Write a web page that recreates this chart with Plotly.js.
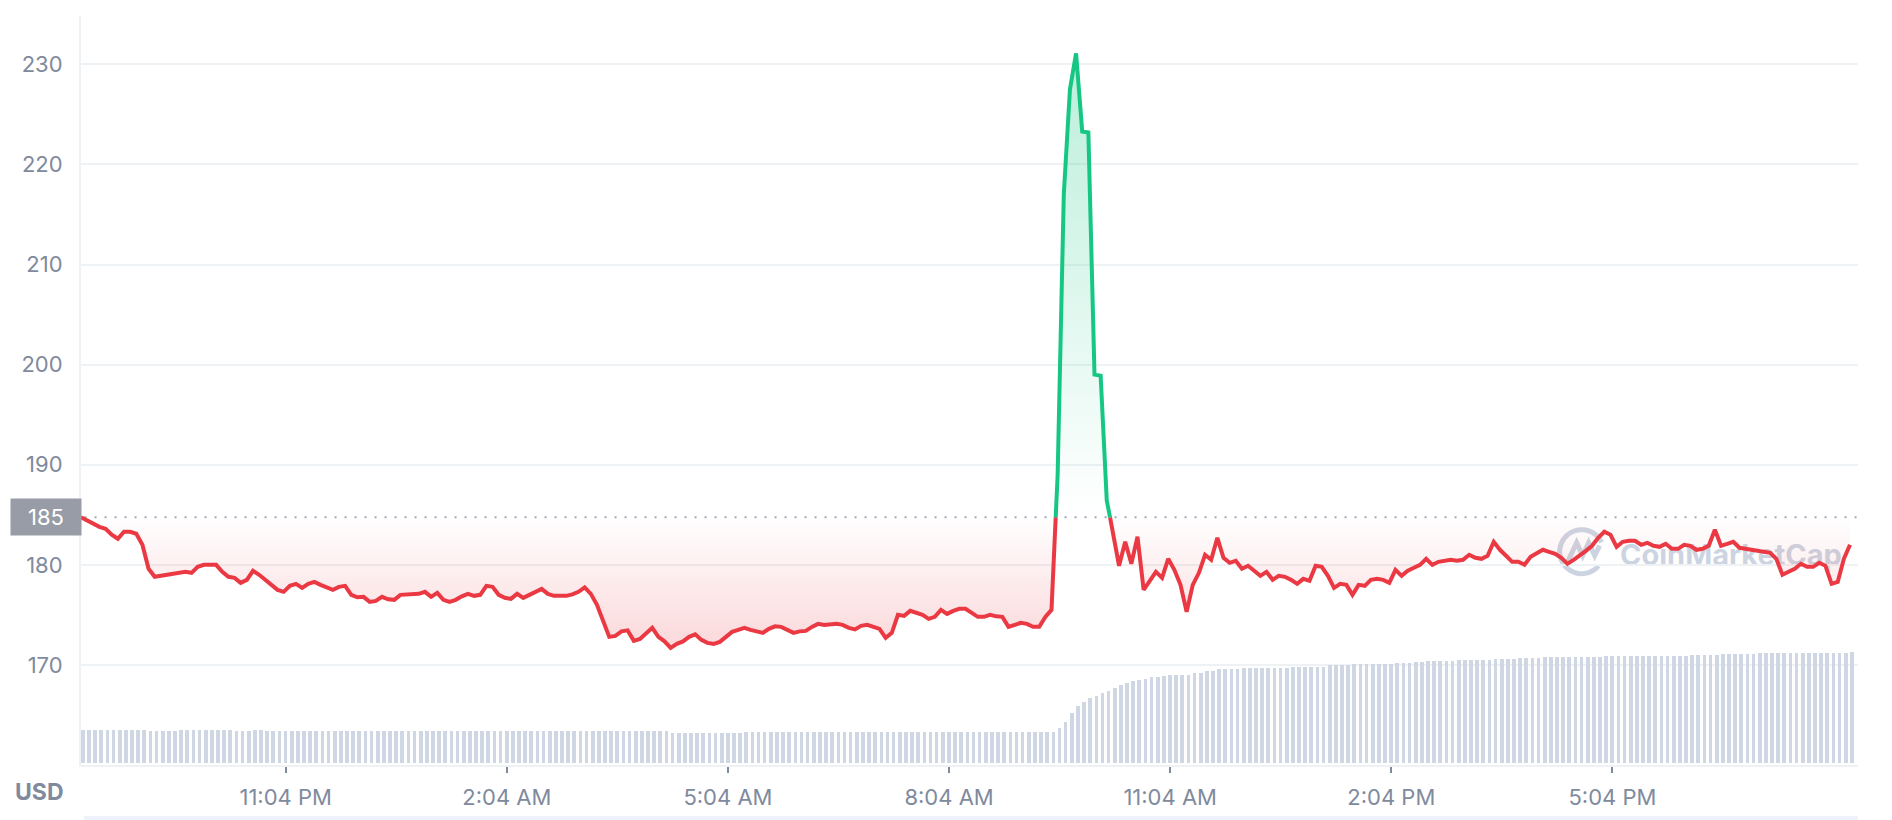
<!DOCTYPE html>
<html>
<head>
<meta charset="utf-8">
<script src="https://cdn.plot.ly/plotly-3.0.1.min.js"></script>
<style>
html,body{margin:0;padding:0;background:#ffffff;}
#chart{width:1892px;height:820px;}
</style>
</head>
<body>
<div id="chart"></div>
<script>
// ---------------- DATA ----------------
const startTime = Date.UTC(2024, 0, 1, 20, 17, 24);   // first sample (8:17 PM)
const intervalMinutes = 5;
const openPrice = 184.75;                               // reference (open) price
const openLabel = '185';
const currencyLabel = 'USD';
const watermarkText = 'CoinMarketCap';

const price = [
  184.75,184.4,184.1,183.8,183.6,183.0,182.6,183.3,183.3,183.1,
  182.0,179.6,178.8,178.9,179.0,179.1,179.15,179.3,179.2,179.8,
  180.0,180.0,180.0,179.3,178.8,178.7,178.2,178.5,179.4,179.0,
  178.5,178.0,177.5,177.3,177.9,178.1,177.7,178.1,178.3,178.0,
  177.7,177.5,177.8,177.9,177.0,176.75,176.8,176.3,176.4,176.8,
  176.55,176.5,177.0,177.0,177.0,177.1,177.3,176.8,177.2,176.5,
  176.3,176.5,176.85,177.1,176.9,177.0,177.9,177.8,177.0,176.7,
  176.6,177.1,176.7,177.0,177.4,177.6,177.1,176.9,176.9,176.9,
  177.05,177.3,177.75,177.1,176.0,174.5,172.8,172.9,173.35,173.45,
  172.4,172.6,173.2,173.7,172.8,172.35,171.7,172.1,172.35,172.8,
  173.05,172.5,172.2,172.1,172.3,172.8,173.3,173.5,173.7,173.5,
  173.4,173.2,173.6,173.85,173.8,173.5,173.2,173.35,173.4,173.8,
  174.1,174.0,174.1,174.1,174.0,173.7,173.55,173.9,174.0,173.8,
  173.6,172.7,173.2,175.0,174.9,175.4,175.2,175.0,174.6,174.8,
  175.5,175.1,175.4,175.6,175.6,175.25,174.8,174.8,175.0,174.85,
  174.8,173.8,174.0,174.2,174.1,173.8,173.8,174.8,175.5,189.0,
  217.0,227.5,231.1,223.3,223.2,199.0,198.9,186.4,183.3,179.9,
  182.3,180.1,182.8,177.5,178.4,179.3,178.7,180.6,179.5,178.0,
  175.3,178.0,179.2,181.0,180.5,182.7,180.7,180.2,180.4,179.6,
  179.9,179.4,178.9,179.3,178.5,178.9,178.8,178.5,178.1,178.6,
  178.4,179.9,179.8,178.9,177.7,178.1,178.0,177.0,178.0,177.9,
  178.5,178.6,178.5,178.2,179.5,178.9,179.4,179.7,180.0,180.6,
  180.0,180.3,180.4,180.5,180.4,180.5,181.0,180.7,180.6,180.9,
  182.3,181.5,180.9,180.3,180.3,180.0,180.8,181.2,181.5,181.3,
  181.1,180.7,180.1,180.5,180.9,181.4,181.9,182.7,183.3,183.0,
  181.8,182.3,182.4,182.4,182.0,182.2,181.9,181.8,182.1,181.6,
  181.6,182.0,181.9,181.5,181.6,181.9,183.5,181.9,182.1,182.3,
  181.7,181.6,181.6,181.5,181.4,181.2,180.6,179.0,179.3,179.6,
  180.1,179.8,179.8,180.2,179.9,178.1,178.3,180.6,182.0
];

// 24h volume (arbitrary units, millions)
const volume = [
  13.2,13.2,13.2,13.2,13.2,13.2,13.2,13.2,13.2,13.2,
  13.2,12.8,12.8,12.8,12.8,12.8,13.2,13.2,13.2,13.2,
  13.2,13.2,13.2,13.2,13.2,12.8,12.8,12.8,13.2,13.2,
  12.8,12.8,12.8,12.8,12.8,12.8,12.8,12.8,12.8,12.8,
  12.8,12.8,12.8,12.8,12.8,12.8,12.8,12.8,12.8,12.8,
  12.8,12.8,12.8,12.8,12.8,12.8,12.8,12.8,12.8,12.8,
  12.8,12.8,12.8,12.8,12.8,12.8,12.8,12.8,12.8,12.8,
  12.8,12.8,12.8,12.8,12.8,12.8,12.8,12.8,12.8,12.8,
  12.8,12.8,12.8,12.8,12.8,12.6,12.6,12.6,12.6,12.6,
  12.6,12.6,12.6,12.6,12.6,12.6,12.0,12.0,12.0,12.0,
  12.0,12.0,12.0,12.0,12.0,12.0,12.0,12.0,12.5,12.5,
  12.5,12.5,12.5,12.5,12.5,12.5,12.5,12.5,12.5,12.5,
  12.5,12.5,12.5,12.5,12.5,12.5,12.5,12.5,12.5,12.5,
  12.5,12.5,12.5,12.5,12.5,12.5,12.5,12.5,12.5,12.5,
  12.5,12.5,12.5,12.5,12.5,12.5,12.5,12.5,12.5,12.5,
  12.5,12.5,12.5,12.5,12.5,12.5,12.5,12.5,12.5,13.9,
  16.5,19.9,22.8,24.5,25.9,26.8,27.9,28.9,29.9,31.2,
  32.1,32.8,33.2,33.6,34.3,34.5,34.8,35.2,35.2,35.2,
  35.2,36.1,36.1,36.9,36.9,37.5,37.5,37.5,37.5,37.9,
  37.9,37.9,38.1,38.1,38.1,38.1,38.1,38.5,38.5,38.5,
  38.5,38.5,38.5,39.2,39.2,39.2,39.2,39.6,39.6,39.6,
  39.6,39.6,39.6,39.6,40.0,40.0,40.0,40.4,40.4,40.7,
  40.7,40.7,40.7,40.7,41.1,41.1,41.1,41.1,41.1,41.1,
  41.7,41.7,41.7,41.7,42.0,42.0,42.0,42.0,42.4,42.4,
  42.4,42.4,42.4,42.4,42.4,42.4,42.4,42.4,42.8,42.8,
  42.8,42.8,42.8,42.8,42.8,42.8,42.8,42.8,42.8,42.8,
  42.8,42.8,43.2,43.2,43.2,43.2,43.2,43.6,43.6,43.6,
  43.6,43.6,43.6,43.9,43.9,43.9,43.9,43.9,43.9,43.9,
  43.9,43.9,43.9,43.9,43.9,43.9,43.9,43.9,44.3
];

const tickTimes = ['2024-01-01 23:04','2024-01-02 02:04','2024-01-02 05:04','2024-01-02 08:04',
                   '2024-01-02 11:04','2024-01-02 14:04','2024-01-02 17:04'];
const tickLabels = ['11:04 PM','2:04 AM','5:04 AM','8:04 AM','11:04 AM','2:04 PM','5:04 PM'];
const priceTicks = [170,180,190,200,210,220,230];

// ---------------- BUILD ----------------
const stepMs = intervalMinutes * 60 * 1000;
const times = price.map((_, i) => startTime + i * stepMs);
const xEnd = startTime + 1446.5 * 60 * 1000;

function splitAtReference(xs, ys, ref) {
  const up = {x: [], y: []}, down = {x: [], y: []};
  for (let i = 0; i < ys.length; i++) {
    const isUp = ys[i] >= ref;
    const cur = isUp ? up : down;
    cur.x.push(xs[i]); cur.y.push(ys[i]);
    if (i < ys.length - 1) {
      const nextUp = ys[i + 1] >= ref;
      if (nextUp !== isUp) {
        const f = (ref - ys[i]) / (ys[i + 1] - ys[i]);
        const xc = xs[i] + f * (xs[i + 1] - xs[i]);
        const other = isUp ? down : up;
        cur.x.push(xc); cur.y.push(ref);
        cur.x.push(null); cur.y.push(null);
        other.x.push(xc); other.y.push(ref);
      }
    }
  }
  return {up, down};
}
const parts = splitAtReference(times, price, openPrice);

const yMin = 160, yMax = 234.83;
const gStart = 170, gStop = 232;
const refPos = (openPrice - gStart) / (gStop - gStart);

const traces = [
  { // baseline at open price
    x: times, y: times.map(() => openPrice), mode: 'lines',
    line: {width: 0, color: 'rgba(0,0,0,0)'}, hoverinfo: 'skip', showlegend: false
  },
  { // gradient area between price and open price
    x: times, y: price, mode: 'lines', fill: 'tonexty',
    fillcolor: 'rgba(234,57,67,0.06)',
    fillgradient: {
      type: 'vertical', start: gStart, stop: gStop,
      colorscale: [
        [0, 'rgba(234,57,67,0.22)'],
        [refPos, 'rgba(234,57,67,0)'],
        [refPos, 'rgba(22,199,132,0)'],
        [1, 'rgba(22,199,132,0.30)']
      ]
    },
    line: {width: 0, color: 'rgba(0,0,0,0)'}, hoverinfo: 'skip', showlegend: false
  },
  { // volume
    type: 'bar', x: times, y: volume, yaxis: 'y2',
    marker: {color: '#cfd6e4', line: {width: 0}},
    width: 0.6 * stepMs, offset: 0, hoverinfo: 'skip', showlegend: false
  },
  {
    x: parts.down.x, y: parts.down.y, mode: 'lines',
    line: {color: '#ea3943', width: 4}, connectgaps: false, hoverinfo: 'skip', showlegend: false
  },
  {
    x: parts.up.x, y: parts.up.y, mode: 'lines',
    line: {color: '#16c784', width: 4}, connectgaps: false, hoverinfo: 'skip', showlegend: false
  }
];

// logo geometry (pixel offsets around an anchor)
function ringPath(r, a0, a1, n) {
  let p = '';
  for (let k = 0; k <= n; k++) {
    const a = (a0 + (a1 - a0) * k / n) * Math.PI / 180;
    p += (k === 0 ? 'M' : 'L') + (r * Math.cos(a)).toFixed(2) + ',' + (r * Math.sin(a)).toFixed(2);
  }
  return p;
}
const logoX = 0.8445, logoY = 0.2848;
const logoColor = '#cdd4e1';

const layout = {
  width: 1892, height: 820,
  margin: {l: 81, r: 34, t: 16, b: 55, pad: 0},
  paper_bgcolor: '#ffffff', plot_bgcolor: '#ffffff',
  font: {family: 'Inter, "Noto Sans", sans-serif', color: '#808a9d', size: 22},
  showlegend: false,
  bargap: 0,
  hovermode: false,
  xaxis: {
    type: 'date', range: [startTime, xEnd],
    tickmode: 'array', tickvals: tickTimes, ticktext: tickLabels,
    ticks: 'outside', ticklen: 6, tickwidth: 2, tickcolor: '#808a9d',
    ticklabelstandoff: 6,
    showgrid: false, zeroline: false,
    showline: true, linecolor: '#eff2f5', linewidth: 2,
    tickfont: {size: 22, color: '#808a9d'}, fixedrange: true
  },
  yaxis: {
    range: [yMin, yMax], tickmode: 'array', tickvals: priceTicks,
    showgrid: true, gridcolor: '#eff2f5', gridwidth: 2,
    zeroline: false, ticks: '', ticklabelstandoff: 12,
    showline: true, linecolor: '#eff2f5', linewidth: 2,
    tickfont: {size: 22, color: '#808a9d'}, fixedrange: true
  },
  yaxis2: {overlaying: 'y', range: [-0.9, 300], visible: false, fixedrange: true},
  shapes: [
    { // dotted open-price line
      type: 'line', xref: 'paper', x0: 0.002, x1: 1, yref: 'y', y0: openPrice, y1: openPrice,
      line: {color: '#a1a7b5', width: 2, dash: '2px,8px'}, layer: 'between'
    },
    { // watermark text
      type: 'rect', xref: 'paper', yref: 'paper', x0: 0.862, x1: 0.995, y0: 0.255, y1: 0.31,
      line: {width: 0}, fillcolor: 'rgba(0,0,0,0)', layer: 'between',
      label: {text: watermarkText, font: {family: 'Inter, "Noto Sans", sans-serif', size: 29, color: logoColor, weight: 700}, textposition: 'middle center'}
    },
    { // logo ring
      type: 'path', xref: 'paper', yref: 'paper', xsizemode: 'pixel', ysizemode: 'pixel',
      xanchor: logoX, yanchor: logoY, path: ringPath(22, 25, 320, 40),
      line: {color: logoColor, width: 5}, layer: 'between'
    },
    { // logo wave
      type: 'path', xref: 'paper', yref: 'paper', xsizemode: 'pixel', ysizemode: 'pixel',
      xanchor: logoX, yanchor: logoY,
      path: 'M-14,-10 L-5,9 L1,-4 L7,9 L13,-4 L18,6',
      line: {color: logoColor, width: 5}, layer: 'between'
    },
    { // navigator strip at the very bottom
      type: 'rect', xref: 'paper', yref: 'paper', x0: 0.0017, x1: 1, y0: -0.0681, y1: -0.08,
      line: {width: 0}, fillcolor: '#eef2fb', layer: 'above'
    }
  ],
  annotations: [
    {
      xref: 'paper', yref: 'y', x: 0, y: openPrice, xanchor: 'right', yanchor: 'middle',
      text: openLabel, showarrow: false, width: 70, height: 36, borderpad: 0, xshift: 1,
      bgcolor: '#989ca7', font: {color: '#ffffff', size: 22}
    },
    {
      xref: 'paper', yref: 'paper', x: -0.0231, y: -0.036, xanchor: 'center', yanchor: 'middle',
      text: '<b>' + currencyLabel + '</b>', showarrow: false,
      font: {color: '#808a9d', size: 23}
    }
  ]
};

Plotly.newPlot('chart', traces, layout, {displayModeBar: false, staticPlot: true});
</script>
</body>
</html>
